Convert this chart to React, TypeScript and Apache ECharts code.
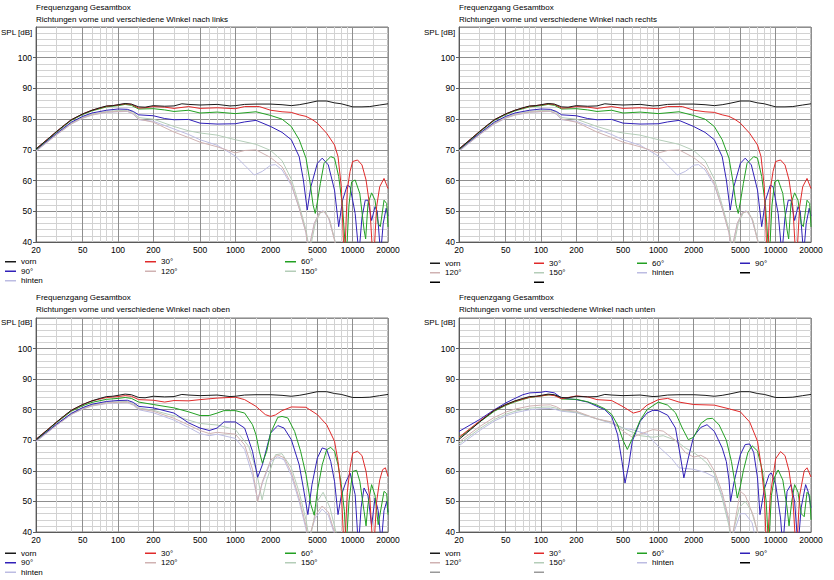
import React, { useEffect, useRef } from 'react';
import * as echarts from 'echarts';

// ---- axis ticks ----
const xTickValues = [20, 30, 40, 50, 60, 70, 80, 90, 100, 150, 200, 300, 400, 500, 600, 700, 800, 900, 1000, 1500, 2000, 3000, 4000, 5000, 6000, 7000, 8000, 9000, 10000, 15000, 20000];
const xLabelValues = [20, 50, 100, 200, 500, 1000, 2000, 5000, 10000, 20000];

// ---- series names ----
const seriesNames = ['vorn', '30°', '60°', '90°', '120°', '150°', 'hinten'];
const mainTitle = 'Frequenzgang Gesamtbox';
const subTitles = [
  'Richtungen vorne und verschiedene Winkel nach links',
  'Richtungen vorne und verschiedene Winkel nach rechts',
  'Richtungen vorne und verschiedene Winkel nach oben',
  'Richtungen vorne und verschiedene Winkel nach unten',
];

// ---- data: [Hz, dB] ----
const vorn = [[20,70.3],[25,73.4],[30,76.0],[35,78.1],[40,79.8],[50,81.7],[60,82.9],[70,83.7],[80,84.3],[90,84.4],[100,84.7],[115,85.1],[130,84.9],[150,84.0],[170,83.9],[200,84.4],[250,84.2],[300,84.3],[350,85.0],[400,84.8],[500,84.6],[700,84.8],[900,84.3],[1000,84.4],[1200,84.8],[1500,84.9],[2000,84.9],[2500,84.7],[3000,84.4],[3500,84.7],[4000,85.1],[5000,85.9],[6000,85.9],[7000,85.3],[8000,85.0],[10000,84.0],[12000,84.0],[14000,84.1],[17000,84.6],[20000,85.0]];

const seiten30 = [[20,70.3],[30,76.0],[40,79.8],[50,81.7],[60,82.9],[80,84.2],[100,84.6],[115,85.0],[130,84.8],[150,83.6],[170,83.7],[200,84.1],[250,83.9],[300,83.5],[400,84.1],[500,83.5],[700,83.7],[1000,83.4],[1200,84.1],[1600,84.1],[2000,82.9],[2500,82.4],[3000,82.2],[3500,81.4],[4000,80.9],[4500,79.9],[5000,78.7],[6000,75.4],[7000,71.6],[7500,67.8],[8000,58.0],[8500,32],[9000,57],[9500,63],[10000,66.2],[11000,66.7],[12000,65.1],[13000,60.2],[14000,51.5],[15000,32],[16000,51.5],[17000,58],[18500,60.7],[20000,57.4]];
const seiten60 = [[20,70.1],[30,75.8],[40,79.6],[50,81.5],[60,82.7],[80,84.0],[100,84.4],[115,84.8],[130,84.5],[150,83.3],[200,83.4],[250,83.0],[300,82.5],[400,82.9],[500,82.0],[700,82.3],[1000,81.8],[1500,82.4],[2000,81.2],[2500,80.0],[3000,77.6],[3500,73.3],[4000,67.3],[4300,60.2],[4600,52],[4800,49.3],[5000,53],[5300,59],[5700,65.6],[6500,67.8],[7000,67.3],[7600,61.3],[8200,51.5],[8800,34],[9300,52],[9800,59.6],[10500,60.2],[11500,55.8],[12500,44],[12900,41],[13500,52.5],[14500,56],[15500,53.6],[16500,46],[17200,45],[18500,53.6],[19500,52.5],[20000,44.9]];
const seiten90 = [[20,70.0],[30,75.4],[40,79.0],[50,80.9],[60,82.0],[80,82.9],[100,83.3],[120,83.2],[135,82.5],[150,81.4],[200,81.1],[250,80.2],[300,79.8],[400,79.9],[500,78.7],[700,78.4],[1000,78.5],[1200,79.1],[1500,79.6],[2000,77.6],[2500,75.7],[3000,73.3],[3500,67.8],[3800,60.2],[4100,50.4],[4400,58],[5000,65.6],[5500,67.3],[6200,65.1],[7000,56.9],[7600,45],[8200,53.6],[9000,58.5],[9500,58],[10500,49.3],[11300,36],[12000,48],[12800,53.6],[13500,53.6],[14500,47],[15500,51.5],[16200,50],[17300,36],[18200,46],[19300,51],[20000,48.5]];
const seiten120 = [[20,69.7],[30,75.0],[40,78.5],[50,80.4],[60,81.4],[80,82.3],[100,82.5],[120,82.6],[135,81.8],[150,80.0],[200,79.0],[300,75.8],[400,74.0],[500,72.5],[700,71.0],[1000,69.0],[1200,69.8],[1500,70.0],[2000,67.5],[2500,64.5],[3000,59.0],[3500,51.0],[4000,43.0],[4200,37],[4700,46],[5200,49.5],[5700,50],[6300,47.5],[7000,40.5],[7300,37]];
const seiten150 = [[20,69.8],[30,75.2],[40,78.7],[50,80.6],[60,81.6],[80,82.5],[100,82.8],[120,82.9],[135,82.3],[150,80.5],[200,80.0],[300,77.6],[400,76.2],[500,75.5],[700,74.8],[1000,73.3],[1500,71.8],[2000,69.8],[2500,66.5],[3000,60.5],[3500,52.0],[4000,44.0],[4300,37],[4800,46],[5300,49.5],[5800,50],[6400,47],[7100,40],[7400,37]];
const seitenHinten = [[20,69.5],[30,74.9],[40,78.4],[50,80.3],[60,81.3],[80,82.2],[100,82.4],[120,82.5],[135,81.6],[150,79.8],[200,79.3],[300,76.8],[400,75.0],[500,73.3],[700,71.5],[1000,68.0],[1200,65.0],[1450,61.8],[1700,63.0],[2000,65.0],[2200,65.2],[2500,63.5],[3000,58.5],[3500,51.0],[4000,43.0],[4200,37],[4700,46],[5200,49.5],[5600,50.2],[6200,48],[7000,41],[7300,37]];

const oben30 = [[20,70.3],[30,76.0],[40,79.8],[50,81.7],[60,82.9],[80,84.0],[100,84.3],[115,84.6],[130,84.4],[150,83.3],[200,83.1],[250,82.5],[300,83.0],[400,82.9],[500,83.3],[700,83.8],[1000,84.1],[1200,83.3],[1500,81.1],[1800,78.4],[2000,77.8],[2200,78.3],[2500,79.7],[3000,80.9],[4000,80.8],[5000,78.4],[6000,75.1],[7000,69.7],[7500,63.1],[8000,53.3],[8500,32],[9000,53],[9500,61],[10000,65.8],[11000,66.4],[12000,65],[13000,59.8],[14000,51.1],[15000,32],[16000,50],[17000,57],[18000,60.4],[19000,61],[20000,58.2]];
const oben60 = [[20,70.1],[30,75.8],[40,79.5],[50,81.3],[60,82.4],[80,83.4],[100,83.7],[115,84.0],[130,83.7],[150,82.5],[200,81.7],[300,80.6],[400,79.3],[500,78.1],[600,78.1],[700,78.9],[800,79.7],[1000,79.7],[1200,78.9],[1400,75.1],[1500,71.8],[1600,66.4],[1700,62.5],[1850,66.4],[2000,72.4],[2300,77.5],[2500,77.8],[2800,77.3],[3200,72.9],[3600,66.4],[4000,58.8],[4400,49],[4700,45.5],[5000,53.3],[5500,62],[6000,66.9],[6500,67.7],[7000,66.4],[7500,62],[8000,55.5],[8500,46.8],[8800,35],[9300,50],[10000,59.8],[10800,60.2],[11500,56.6],[12500,46.8],[13000,42],[13500,49],[14500,55.5],[15500,52],[16500,42.4],[17500,48],[18500,53.3],[19500,52.5],[20000,45.7]];
const oben90 = [[20,70.0],[30,75.3],[40,78.8],[50,80.7],[60,81.8],[80,82.7],[100,83.0],[120,83.1],[135,82.4],[150,81.1],[200,80.6],[300,78.9],[400,75.7],[500,74.0],[600,73.2],[700,74.0],[800,76.0],[1000,76.0],[1200,74.0],[1400,66.4],[1550,57.9],[1700,62.0],[2000,72.4],[2300,74.8],[2600,74.0],[3000,70.2],[3500,62],[3800,54.4],[4150,45.7],[4500,55.5],[5000,64.2],[5500,67.5],[6000,67],[6500,63.1],[7000,56.6],[7500,45.7],[8000,52],[8800,56.6],[9500,59.3],[10500,52.2],[11200,35],[11800,48],[12500,54.4],[13500,52],[14500,42],[15500,51.1],[16500,47],[17500,36],[18500,47],[19500,50],[20000,46.5]];
const oben120 = [[20,69.7],[30,75.0],[40,78.5],[50,80.3],[60,81.3],[80,82.2],[100,82.4],[120,82.5],[135,81.7],[150,80.3],[200,79.5],[300,77.2],[400,75.0],[500,73.2],[600,72.2],[700,72.6],[1000,72.0],[1200,68.5],[1400,60.5],[1550,50.0],[1700,56.5],[2000,63.5],[2300,65.2],[2600,64.3],[3000,59.5],[3500,51.0],[4000,42.0],[4200,37],[4800,45.5],[5500,48.5],[6200,46.5],[7000,40],[7300,37]];
const oben150 = [[20,69.8],[30,75.2],[40,78.7],[50,80.5],[60,81.5],[80,82.4],[100,82.6],[120,82.7],[135,82.0],[150,80.6],[200,79.8],[300,78.0],[400,76.6],[500,75.5],[700,75.0],[1000,73.5],[1300,68.0],[1500,60.5],[1690,50.5],[1850,57.0],[2200,65.3],[2500,65.6],[3000,61.0],[3500,53.0],[4000,44.0],[4300,37],[5000,50.0],[5600,53.0],[6400,48],[7200,40],[7500,37]];
const obenHinten = [[20,69.5],[30,74.9],[40,78.4],[50,80.2],[60,81.2],[80,82.0],[100,82.2],[120,82.3],[135,81.5],[150,80.0],[200,79.0],[300,76.6],[400,74.2],[500,72.2],[600,71.5],[700,72.0],[1000,70.6],[1200,67.0],[1400,58.5],[1550,50.5],[1700,56.0],[2000,63.0],[2300,64.6],[2600,63.6],[3000,58.5],[3500,50.0],[4000,41.0],[4150,37],[4800,44.5],[5500,47.5],[6200,45.5],[6900,40],[7200,37]];

const unten30 = [[20,71.0],[30,76.3],[40,79.8],[50,81.6],[60,82.8],[80,84.1],[100,84.5],[115,84.9],[130,84.6],[150,83.6],[200,84.5],[250,84.2],[300,83.3],[400,83.0],[500,81.0],[612,78.9],[700,79.5],[800,81.5],[1000,83.3],[1200,83.7],[1500,82.5],[2000,81.7],[3000,81.5],[4000,80.3],[5000,79.3],[6000,76.0],[7000,69.7],[7500,62.0],[8000,52.0],[8400,32],[9000,52.0],[10000,64.0],[11000,66.3],[12000,65.0],[13000,60.0],[14000,51.0],[15000,32],[16000,52.0],[17500,60.0],[18500,61.0],[20000,58.0]];
const unten60 = [[20,70.8],[30,76.0],[40,79.5],[50,81.4],[60,82.6],[80,84.0],[100,84.5],[120,84.9],[135,84.6],[150,83.5],[200,83.4],[250,82.6],[300,81.5],[350,80.3],[400,78.5],[450,75.0],[500,70.0],[544,67.0],[600,70.5],[700,76.5],[800,80.0],[1000,82.5],[1200,81.5],[1400,79.0],[1600,74.0],[1800,70.2],[2000,71.0],[2300,75.5],[2600,77.0],[2900,77.2],[3300,75.0],[3800,70.0],[4200,63.0],[4500,56],[4710,51.1],[5000,55],[5300,60],[5800,66],[6300,68.2],[7000,66.5],[7700,60.0],[8300,50.0],[8700,35],[9200,52.0],[9800,58.0],[10500,60.3],[11500,57.0],[12500,48.0],[13000,42.0],[13700,50.0],[14500,55.5],[15500,53.0],[16500,46.0],[17500,45.0],[18500,53.0],[19500,52.0],[20000,44.0]];
const unten90 = [[20,72.9],[30,76.8],[40,80.0],[50,82.2],[60,83.7],[70,84.9],[80,85.5],[100,85.7],[110,86.0],[130,85.5],[150,83.8],[200,83.3],[250,82.5],[300,81.1],[350,80.0],[400,77.8],[450,71.8],[490,63],[520,56.0],[560,62.0],[600,69.7],[700,76.2],[800,78.9],[900,79.8],[1000,79.7],[1200,78.2],[1400,74.0],[1550,64.2],[1650,57.7],[1800,64.2],[2000,71.3],[2300,74.2],[2600,75.1],[3000,72.9],[3500,67.5],[3800,63],[4000,57],[4130,50.0],[4400,56],[5000,65.3],[5500,68.6],[6000,68.8],[6500,66.0],[7000,57.7],[7350,45.7],[8000,54],[8800,58.8],[9200,59.3],[10000,55.5],[11000,44.6],[11500,35],[12500,53.3],[13500,55.5],[14500,50],[15500,35],[16500,48],[18000,55.5],[19000,53],[20000,47.9]];
const unten120 = [[20,69.5],[30,74.5],[40,77.5],[50,79.2],[60,80.2],[80,81.2],[100,81.5],[120,81.6],[135,81.0],[150,80.0],[200,79.5],[300,77.0],[400,76.0],[500,73.0],[600,71.0],[700,72.0],[900,73.5],[1100,73.0],[1400,70.0],[1700,66.0],[2000,64.5],[2300,65.1],[2600,64.0],[3000,60.0],[3500,53.0],[4000,44.0],[4200,37],[5000,53.3],[5500,52],[6500,45],[7000,40],[7300,37]];
const unten150 = [[20,68.8],[30,73.8],[40,76.8],[50,78.5],[60,79.5],[80,80.5],[100,80.8],[120,80.9],[135,80.5],[150,79.8],[200,79.2],[300,77.0],[400,75.8],[500,74.0],[700,71.5],[900,71.0],[1100,71.5],[1400,70.0],[1700,67.5],[2000,66.0],[2300,64.3],[2600,62.5],[3000,59.0],[3500,51.0],[4000,42.0],[4150,37],[4900,48],[5500,50.0],[6200,47],[7000,40],[7300,37]];
const untenHinten = [[20,68.2],[30,73.2],[40,76.3],[50,78.0],[60,79.0],[80,80.0],[100,80.3],[120,80.4],[135,80.0],[150,79.5],[200,79.0],[300,77.0],[400,75.5],[500,74.0],[600,73.5],[800,72.0],[1000,68.0],[1300,64.0],[1500,61.0],[2000,60.5],[2500,59.5],[3000,58.0],[3500,52.0],[4000,43.0],[4150,37],[5000,46],[5500,46],[6300,43],[6800,37]];

const panelSeries = [
  [vorn, seiten30, seiten60, seiten90, seiten120, seiten150, seitenHinten],
  [vorn, seiten30, seiten60, seiten90, seiten120, seiten150, seitenHinten],
  [vorn, oben30, oben60, oben90, oben120, oben150, obenHinten],
  [vorn, unten30, unten60, unten90, unten120, unten150, untenHinten],
];

const seriesColors = ['#1a1a1a', '#e02a2a', '#22a022', '#3020b8', '#d0b2b2', '#b4cdb8', '#bcbce2'];

// layout
const gridBoxes = [
  { left: 36, top: 27, width: 352, height: 215 },
  { left: 459, top: 27, width: 352, height: 215 },
  { left: 36, top: 318, width: 352, height: 214 },
  { left: 459, top: 318, width: 352, height: 214 },
];
const FONT = 'Liberation Sans, Arial, sans-serif';
const MAJOR = '#8e8e8e';
const MINOR = '#d2d2d2';

function buildOption() {
  const txt = { fontSize: 8, fontWeight: 'normal' as const, color: '#000', fontFamily: FONT, lineHeight: 12 };
  const title: any[] = [];
  gridBoxes.forEach((g, i) => {
    const ty = i < 2 ? 1 : 291;
    title.push({ text: mainTitle, subtext: subTitles[i], left: g.left, top: ty, padding: 0, itemGap: 0,
      textStyle: txt, subtextStyle: txt });
    title.push({ text: 'SPL [dB]', left: g.left < 100 ? 1 : 424, top: ty + 25, padding: 0, textStyle: txt });
  });

  const splitColors = xTickValues.map((v) => (xLabelValues.includes(v) ? MAJOR : MINOR));

  const xAxis = gridBoxes.map((_, i) => ({
    type: 'log', logBase: 10, min: 20, max: 20000, gridIndex: i,
    axisLine: { show: true, lineStyle: { color: '#5a5a5a' } },
    axisTick: { show: false, customValues: xTickValues },
    axisLabel: { customValues: xLabelValues, formatter: (v: number) => String(Math.round(v)),
      fontSize: 8.5, color: '#000', fontFamily: FONT, margin: 3 },
    splitLine: { show: true, lineStyle: { color: splitColors, width: 1 } },
    minorTick: { show: false }, minorSplitLine: { show: false },
  }));
  const yAxis = gridBoxes.map((_, i) => ({
    type: 'value', min: 40, max: 110, interval: 10, gridIndex: i,
    axisLine: { show: true, lineStyle: { color: '#5a5a5a' } },
    axisTick: { show: true, length: 3, lineStyle: { color: '#5a5a5a' } },
    axisLabel: { showMaxLabel: false, fontSize: 8.5, color: '#000', fontFamily: FONT, margin: 4 },
    splitLine: { show: true, lineStyle: { color: MAJOR } },
    minorTick: { show: false, splitNumber: 5 },
    minorSplitLine: { show: true, lineStyle: { color: MINOR } },
  }));

  const series: any[] = [];
  panelSeries.forEach((list, p) => {
    for (let k = list.length - 1; k >= 0; k--) {
      series.push({
        type: 'line', name: seriesNames[k], data: list[k], xAxisIndex: p, yAxisIndex: p,
        showSymbol: false, symbol: 'none', clip: true, color: seriesColors[k],
        lineStyle: { width: 1, color: seriesColors[k] }, z: 3 + (list.length - k),
        emphasis: { disabled: true },
      });
    }
  });
  // blank legend entries (no name in the original)
  const blanks = [
    { name: ' ', color: '#000' }, { name: '  ', color: '#000' }, { name: '   ', color: '#000' },
    { name: '    ', color: '#999' }, { name: '     ', color: '#999' },
  ];
  blanks.forEach((b) => series.push({ type: 'line', name: b.name, data: [], xAxisIndex: 1, yAxisIndex: 1,
    color: b.color, lineStyle: { color: b.color }, symbol: 'none' }));

  const legendBase = { orient: 'vertical', itemGap: 0, itemHeight: 1.5, icon: 'rect', padding: 0,
    selectedMode: false, textStyle: { fontSize: 8, color: '#000', fontFamily: FONT, lineHeight: 9.5 } };
  const legend: any[] = [];
  const leftCols = [[0, 3, 6], [1, 4], [2, 5]];
  const leftX = [5, 145, 285];
  [257, 548.5].forEach((top) => {
    leftCols.forEach((c, j) => legend.push({ ...legendBase, left: leftX[j], top, itemWidth: 11,
      data: c.map((k) => seriesNames[k]) }));
  });
  const rightX = [430, 534, 637, 740];
  const rightColsTop = [[seriesNames[0], seriesNames[4], ' '], [seriesNames[1], seriesNames[5], '  '], [seriesNames[2], seriesNames[6]], [seriesNames[3], '   ']];
  const rightColsBottom = [[seriesNames[0], seriesNames[4], '    '], [seriesNames[1], seriesNames[5], '     '], [seriesNames[2], seriesNames[6]], [seriesNames[3], '   ']];
  rightColsTop.forEach((c, j) => legend.push({ ...legendBase, left: rightX[j], top: 258.5, itemWidth: 10, data: c }));
  rightColsBottom.forEach((c, j) => legend.push({ ...legendBase, left: rightX[j], top: 548.5, itemWidth: 10, data: c }));

  return {
    animation: false,
    backgroundColor: '#fff',
    textStyle: { fontFamily: FONT },
    title,
    legend,
    grid: gridBoxes.map((g) => ({ ...g, show: true, borderColor: '#7a7a7a', borderWidth: 1, backgroundColor: '#fff' })),
    xAxis,
    yAxis,
    series,
  };
}

export default function App() {
  const ref = useRef<HTMLDivElement>(null);
  useEffect(() => {
    if (!ref.current) return;
    const chart = echarts.init(ref.current, undefined, { renderer: 'svg' });
    chart.setOption(buildOption() as any);
    return () => chart.dispose();
  }, []);
  return <div ref={ref} style={{ position: 'fixed', left: 0, top: 0, width: 834, height: 580, background: '#fff' }} />;
}
